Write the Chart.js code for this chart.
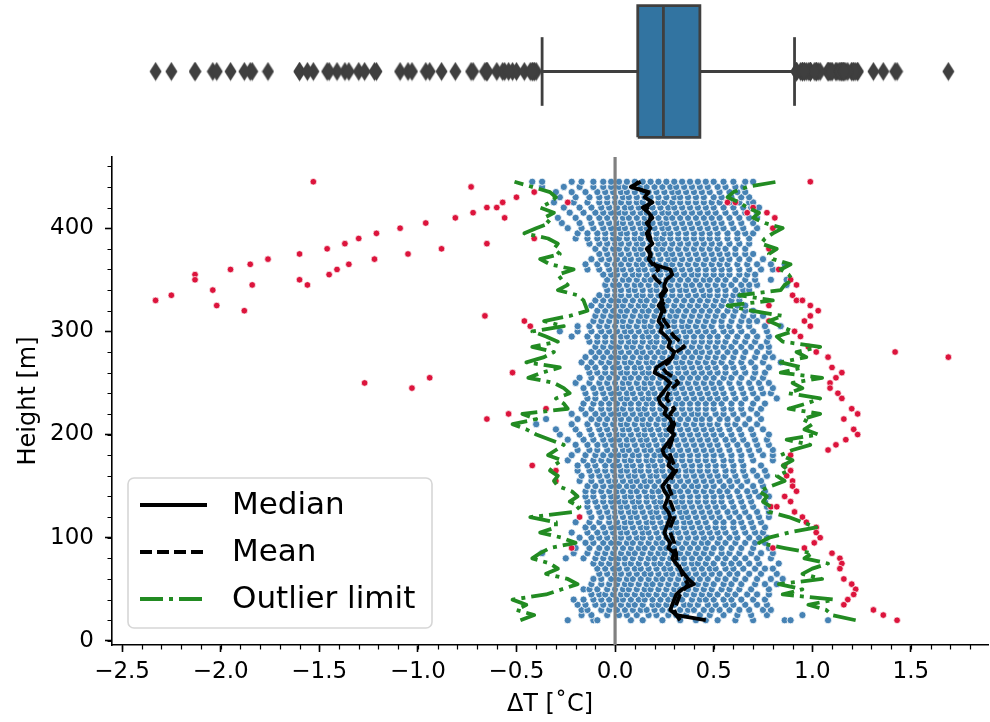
<!DOCTYPE html>
<html lang="en">
<head>
<meta charset="UTF-8">
<title>ΔT profile with outliers</title>
<script src="https://cdn.jsdelivr.net/npm/chart.js"></script>
<style>
  html, body { margin: 0; padding: 0; background: #fff; }
  #wrap { position: relative; width: 990px; height: 722px; }
  #boxCanvas { position: absolute; left: 0; top: 0; }
  #mainCanvas { position: absolute; left: 0; top: 150px; }
</style>
</head>
<body>
<div id="wrap">
  <canvas id="boxCanvas" width="990" height="150"></canvas>
  <canvas id="mainCanvas" width="990" height="572"></canvas>
</div>
<script>
// heights of the profile levels [m]
const heights = [20,25,30,35,40,45,50,55,60,65,70,75,80,85,90,95,100,105,110,115,
  120,125,130,135,140,145,150,155,160,165,170,175,180,185,190,195,200,205,210,215,
  220,225,230,235,240,245,250,255,260,265,270,275,280,285,290,295,300,305,310,315,
  320,325,330,335,340,345,350,355,360,365,370,375,380,385,390,395,400,405,410,415,
  420,425,430,435,440,445];

// per-level statistics, dT in hundredths of a degree (same order as heights)
const medianDT = [46,31,28,29,30,31,34,40,37,35, 33,31,29,30,27,28,26,25,26,27,
  28,27,25,26,27,25,24,26,28,30, 27,28,25,24,26,28,30,27,29,28,
  25,26,23,22,24,26,28,25,20,21, 25,29,30,27,28,26,23,24,22,23,
  24,22,24,23,25,25,26,29,28,19, 17,18,16,19,17,16,18,16,19,17,
  14,19,15,17,8,13];
const meanDT = [33,31,30,31,32,33,35,37,35,34, 33,32,31,31,30,30,29,28,28,29,
  30,30,29,28,29,28,27,28,29,31, 30,29,28,27,28,29,29,29,30,29,
  28,30,28,26,27,29,32,30,26,24, 27,29,31,35,33,30,28,27,25,24,
  25,24,25,24,26,24,21,19,22,20, 18,18,17,18,18,17,17,17,18,18,
  16,18,17,16,9,12];
const lowerLimitDT = [-48,-41,-50,-45,-52,-35,-27,-19,-24,-35, -29,-33,-42,-38,-33,-20,-27,-38,-30,-30,
  -43,-21,-18,-23,-19,-22,-29,-31,-29,-33, -31,-27,-34,-30,-26,-33,-40,-45,-52,-40,
  -47,-24,-26,-30,-23,-26,-31,-44,-37,-28, -45,-36,-31,-42,-29,-35,-42,-26,-36,-23,
  -14,-15,-16,-19,-29,-24,-27,-29,-21,-33, -38,-28,-31,-29,-34,-46,-40,-33,-36,-31,
  -38,-33,-30,-33,-42,-51];
const upperLimitDT = [122,110,107,98,111,85,95,83,105,95, 100,108,96,100,86,73,78,88,102,95,
  88,78,79,75,77,73,79,86,82,88, 85,90,84,90,99,87,103,96,100,95,
  104,88,97,104,88,95,90,105,84,95, 84,97,92,104,85,82,90,84,78,85,
  69,57,80,63,84,86,90,88,84,89, 80,78,82,74,76,80,85,76,70,73,
  67,63,57,60,67,82];

// all inlier measurements per level (dT in hundredths), same order as heights
const cloudDT = [
  [-24,-11,-9,8,14,24,33,41,46,52,61,70,86,89,108],                                  // 20
  [-17,-12,-4,2,6,11,17,21,27,31,36,43,48,55,62,69,77,95],
  [-17,-14,-7,-3,1,5,9,13,16,20,24,28,33,37,40,45,49,53,58,63,68,75,79],
  [-19,-15,-10,-6,-2,3,7,10,14,19,22,26,30,35,38,42,47,51,56,60,66,72,77],
  [-21,-16,-11,-7,-3,1,4,8,12,15,19,23,27,30,34,39,43,46,50,55,59,64,70,76],
  [-12,-8,-5,-1,3,6,10,14,17,21,25,29,32,36,40,44,48,52,57,61,67,72,78],
  [-16,-13,-9,-4,0,4,7,11,15,18,22,26,30,33,37,41,45,49,54,58,63,69,78],
  [-12,-7,-3,1,5,8,12,16,19,23,27,31,35,38,42,46,50,55,59,64,71,76,82],
  [-11,-7,-2,2,6,9,13,17,21,24,28,32,36,39,43,47,52,56,61,66,72,79,85],
  [-8,-4,0,3,7,11,15,18,22,26,29,33,37,41,45,49,53,58,62,68,74,82],
  [-9,-5,-1,2,6,10,13,17,21,25,28,32,36,40,44,48,51,56,60,65,71,76,80],              // 70
  [-11,-7,-3,1,5,8,12,16,20,23,27,31,35,39,42,46,50,55,59,63,68,73,83],
  [-25,-16,-10,-6,-2,2,5,9,13,17,20,24,28,32,35,39,43,47,52,56,61,66,72,79],
  [-37,-21,-14,-9,-5,-1,3,7,10,14,18,22,25,29,33,37,41,45,49,54,58,63,69,74,80],
  [-20,-13,-8,-4,0,4,8,12,15,19,23,26,30,34,38,42,46,50,54,59,64,70,78],
  [-15,-11,-6,-2,2,6,9,13,17,21,24,28,32,36,40,44,47,52,56,61,66,71,76],
  [-18,-12,-8,-4,0,3,7,11,14,18,22,26,29,33,37,41,45,49,53,58,62,68,73,77],
  [-22,-14,-9,-5,-1,3,6,10,14,17,21,25,29,32,36,40,44,48,52,56,61,66,71,75],
  [-15,-11,-6,-2,2,5,9,13,16,20,24,28,31,35,39,43,47,51,55,60,65,70,76],
  [-20,-13,-8,-3,1,5,8,12,16,19,23,27,31,35,38,42,46,51,55,60,64,69,74],
  [-12,-7,-3,0,4,8,11,15,19,22,26,30,34,37,41,45,49,53,58,63,68,73,78],              // 120
  [-13,-8,-4,0,3,7,10,14,18,21,25,29,33,36,40,44,48,52,57,61,66,72,78],
  [-14,-9,-5,-1,3,6,10,13,17,21,24,28,32,35,39,43,47,51,55,60,65,70,77],
  [-14,-10,-6,-2,2,5,9,12,16,20,23,27,31,34,38,42,46,50,54,59,64,69,76],
  [-15,-11,-6,-2,1,5,8,12,16,19,23,27,30,34,38,42,46,50,54,58,63,68,73,78],
  [-15,-11,-7,-3,1,4,8,11,15,19,22,26,30,33,37,41,45,49,53,57,62,67,71,76],
  [-14,-10,-6,-2,2,6,9,13,16,20,24,27,31,35,39,42,46,50,55,59,64,70,75],
  [-18,-12,-7,-3,0,4,8,11,15,18,22,26,29,33,37,41,45,49,53,58,62,67,74],
  [-17,-12,-8,-4,0,3,7,10,14,18,21,25,29,32,36,40,44,48,52,56,61,66,72,77],
  [-19,-13,-9,-5,-1,3,6,10,13,17,21,24,28,32,36,39,43,47,51,56,60,65,70,76],
  [-19,-14,-10,-5,-1,2,6,9,13,17,20,24,28,31,35,39,43,47,51,55,60,65,74],             // 170
  [-24,-16,-11,-7,-3,1,5,8,12,16,19,23,27,30,34,38,42,46,50,55,59,64,70,80],
  [-22,-15,-10,-6,-2,2,5,9,12,16,20,23,27,31,34,38,42,46,50,54,59,64,69,75,80],
  [-19,-13,-9,-4,0,4,7,11,15,18,22,26,29,33,37,41,45,49,53,58,63,68,73,80],
  [-20,-14,-9,-5,-1,3,6,10,14,17,21,25,28,32,36,40,44,48,52,57,62,67,72,78],
  [-24,-16,-11,-6,-2,2,6,9,13,16,20,24,28,31,35,39,43,47,51,56,60,65,71,77],
  [-28,-18,-12,-7,-3,1,4,8,12,15,19,23,26,30,34,38,42,46,50,54,59,64,70,78],
  [-30,-20,-13,-8,-4,0,4,7,11,15,18,22,26,29,33,37,41,45,49,53,58,63,69,75],
  [-40,-22,-14,-9,-5,-1,3,6,10,14,17,21,25,28,32,36,40,44,48,52,57,61,66,72],
  [-35,-19,-12,-8,-4,0,3,7,11,14,18,22,25,29,33,37,41,44,48,53,57,62,68,74],
  [-22,-15,-10,-6,-2,2,5,9,13,16,20,24,27,31,35,39,42,46,51,55,60,65,72],              // 220
  [-17,-12,-7,-3,1,4,8,12,15,19,23,26,30,34,38,42,46,50,55,59,64,69,74],
  [-16,-11,-7,-3,1,5,8,12,16,19,23,27,31,34,38,42,46,50,54,59,64,70,76],
  [-14,-10,-5,-1,3,6,10,14,17,21,25,28,32,36,40,44,48,52,56,61,66,72,82],
  [-15,-10,-6,-2,2,6,9,13,17,20,24,28,31,35,39,43,47,51,55,60,65,70,75,79],
  [-16,-11,-7,-3,1,4,8,12,15,19,23,27,30,34,38,42,46,50,54,59,64,69,74,80],
  [-20,-13,-8,-4,0,4,7,11,15,18,22,26,30,33,37,41,45,49,53,58,63,68,73,78],
  [-18,-12,-7,-3,1,5,8,12,16,19,23,27,30,34,38,42,46,50,55,59,64,70,75],
  [-13,-9,-5,-1,3,6,10,14,17,21,25,28,32,36,40,44,48,52,56,61,66,71,76],
  [-14,-10,-5,-1,2,6,10,13,17,21,24,28,32,35,39,43,47,51,56,60,65,71,78],
  [-17,-12,-7,-3,1,5,8,12,16,19,23,27,31,34,38,42,46,50,54,59,64,69,75,84],          // 270
  [-15,-10,-6,-2,2,5,9,13,16,20,24,28,31,35,39,43,47,51,55,60,65,71,76,80],
  [-12,-8,-4,0,3,7,11,14,18,22,25,29,33,37,41,44,48,52,57,61,66,72,78],
  [-10,-6,-2,2,6,9,13,17,20,24,28,32,35,39,43,47,51,55,59,64,69,74,78],
  [-13,-9,-5,-1,3,7,10,14,18,21,25,29,33,36,40,44,48,52,56,61,66,71,77],
  [-22,-14,-9,-5,-1,3,6,10,14,17,21,25,29,32,36,40,44,48,52,57,62,67,72,78],
  [-28,-19,-12,-7,-3,1,5,8,12,16,19,23,27,31,35,38,42,46,50,55,59,64,70,77],
  [-19,-13,-8,-4,0,4,7,11,15,18,22,26,30,34,37,41,45,49,54,58,63,68,76,84],
  [-11,-7,-3,1,4,8,12,15,19,23,27,30,34,38,42,46,50,54,59,64,68,72],
  [-10,-6,-2,2,5,9,13,16,20,24,28,31,35,39,43,47,51,55,60,65,70,75],
  [-9,-5,-1,3,6,10,14,17,21,25,29,32,36,40,44,48,52,57,61,66,70],                     // 320
  [-12,-7,-3,1,4,8,12,15,19,23,26,30,34,38,42,46,50,54,58,62,66],
  [-10,-6,-2,2,5,9,13,16,20,24,27,31,35,39,43,47,51,55,59,63],
  [-8,-4,0,3,7,11,14,18,22,25,29,33,37,41,45,48,52,56,60,63],
  [-4,0,3,7,10,14,18,21,25,29,33,36,40,44,48,52,56,61,65,68],
  [-5,-1,2,6,10,13,17,21,24,28,32,36,39,43,47,51,55,59,64,68,72,87],
  [-4,0,4,7,11,15,18,22,26,29,33,37,41,45,48,52,56,61,66,71,79,87],
  [-6,-2,1,5,9,12,16,20,23,27,31,35,39,42,46,50,54,58,63,67,71],
  [-14,-8,-3,1,4,8,12,15,19,23,26,30,34,38,42,46,50,54,58,63,68,74,80],
  [-15,-9,-4,0,3,7,11,14,18,22,26,29,33,37,41,45,49,53,57,62,67,72,79,86],
  [-12,-7,-3,1,5,8,12,16,19,23,27,30,34,38,42,46,50,54,58,63,68,75],                  // 370
  [-8,-4,0,3,7,11,14,18,22,26,29,33,37,41,45,49,53,57,61,66,70],
  [-10,-5,-1,2,6,10,13,17,21,24,28,32,36,40,44,48,52,56,61,66],
  [-13,-8,-4,0,3,7,11,14,18,22,25,29,33,37,41,45,49,53,58,63,68],
  [-20,-14,-9,-5,-1,2,6,10,13,17,21,24,28,32,36,40,44,48,52,57,62,68],
  [-19,-14,-9,-5,-1,3,6,10,14,17,21,25,28,32,36,40,44,48,52,57,62,66,70],
  [-24,-17,-11,-6,-2,2,5,9,13,16,20,24,27,31,35,39,43,47,51,55,60,65,72],
  [-27,-18,-12,-7,-3,1,4,8,12,15,19,23,26,30,34,38,42,46,50,54,59,64,70],
  [-29,-20,-13,-8,-4,0,4,7,11,15,18,22,26,29,33,37,41,45,49,53,58,63,68,72],
  [-23,-16,-10,-6,-2,2,5,9,13,16,20,24,27,31,35,39,43,47,51,56,61,66,72],
  [-26,-18,-12,-7,-3,1,5,8,12,16,19,23,27,30,34,38,42,46,50,55,60,65,69,73],          // 420
  [-31,-21,-14,-8,-4,0,3,7,11,14,18,22,25,29,33,37,41,45,49,53,58,63,68,70],
  [-28,-20,-13,-8,-4,0,4,7,11,15,18,22,26,30,33,37,41,45,50,54,59,64,68],
  [-30,-22,-15,-9,-5,-1,3,6,10,14,17,21,25,29,32,36,40,44,48,53,58,62,66],
  [-37,-26,-18,-11,-6,-2,2,5,9,13,16,20,24,28,31,35,39,43,47,52,56,61,65],
  [-42,-37,-22,-17,-11,-6,-2,2,6,10,14,18,22,26,30,34,38,42,46,50,55,60,66,70]       // 445
];

// points flagged as outliers (outside the per-level limit)
const outlierDT = [-153,-73,-41,-50,-57,-24,-60,-65,-72,-56,-81,-96,-109,-121,-130,-41,-137,-65,-146,-88,
  -160,-105,-122,-176,-135,-185,-141,-195,-145,-213,-160,-213,-156,-184,-204,-225,-233,-202,-188,-66,
  -46,-43,-52,-94,-127,-103,-35,-54,-65,-42,-30,-30,-18,-22,
  99,57,61,70,77,67,81,80,78,83,89,92,90,92,95,78,99,103,99,96,
  78,99,91,94,98,102,142,108,169,110,115,112,109,109,113,115,120,123,116,121,
  123,117,112,108,89,86,89,87,90,90,92,86,89,79,82,91,95,97,102,102,
  104,101,96,80,110,114,115,114,116,120,122,121,118,116,131,136,143];
const outlierHeight = [445,440,435,430,425,425,420,420,415,410,410,405,400,395,390,390,385,385,380,380,
  375,375,370,370,365,365,360,360,355,355,350,350,345,345,340,335,330,325,320,315,
  310,305,260,255,250,245,225,220,215,170,165,155,120,90,
  445,425,425,420,415,415,410,400,380,360,350,345,335,330,330,325,325,320,315,310,
  310,305,300,295,285,280,280,275,275,265,260,255,250,245,240,235,225,220,215,205,
  200,195,190,185,180,170,165,160,155,150,145,140,135,130,130,125,120,115,110,105,
  100,95,90,90,85,80,75,70,60,55,50,45,40,35,30,25,20];

// box plot of all dT values: lower whisker, Q1, median, Q3, upper whisker
const boxStats = [-0.37, 0.115, 0.245, 0.43, 0.91];

const xTicks = [-2.5, -2.0, -1.5, -1.0, -0.5, 0.0, 0.5, 1.0, 1.5];
const yTicks = [0, 100, 200, 300, 400];
const legendLabels = ['Median', 'Mean', 'Outlier limit'];

// ---------- build point lists ----------
const xMin = -2.551, xMax = 1.891;
const yMin = -4, yMax = 469;

const cloudPts = [];
cloudDT.forEach((row, i) => row.forEach(v => cloudPts.push({ x: v / 100, y: heights[i] })));
const outlierPts = outlierDT.map((v, i) => ({ x: v / 100, y: outlierHeight[i] }));
const profile = arr => arr.map((v, i) => ({ x: v / 100, y: heights[i] }));

const [wLo, q1, med, q3, wHi] = boxStats;
const allDT = cloudPts.map(p => p.x).concat(outlierPts.map(p => p.x));
const boxFliers = allDT.filter(v => v < wLo || v > wHi);

Chart.defaults.font.family = 'DejaVu Sans';
Chart.defaults.color = '#000';

const fmtX = v => (v < 0 ? '\u2212' : '') + Math.abs(v).toFixed(1);

// ---------- top: box plot ----------
const boxEdge = '#3f3f3f';
const boxHalf = 0.92, capHalf = 0.48;

const diamond = document.createElement('canvas');
diamond.width = 13; diamond.height = 20;
(function () {
  const d = diamond.getContext('2d');
  d.fillStyle = boxEdge;
  d.beginPath();
  d.moveTo(6.5, 0.5); d.lineTo(12.5, 10); d.lineTo(6.5, 19.5); d.lineTo(0.5, 10);
  d.closePath(); d.fill();
})();

const lineDs = (data, color, width, order, extra) => Object.assign({
  data, showLine: true, borderColor: color, borderWidth: width, pointRadius: 0,
  fill: false, tension: 0, order
}, extra || {});

new Chart(document.getElementById('boxCanvas'), {
  type: 'scatter',
  data: {
    datasets: [
      lineDs([{ x: wLo, y: 0 }, { x: wHi, y: 0 }], boxEdge, 2.8, 6),
      lineDs([{ x: q1, y: -boxHalf }, { x: q3, y: -boxHalf }], 'rgba(0,0,0,0)', 1, 5),
      lineDs([{ x: q1, y: boxHalf }, { x: q3, y: boxHalf }], 'rgba(0,0,0,0)', 1, 4,
        { fill: '-1', backgroundColor: '#3274a1' }),
      lineDs([{ x: q1, y: -boxHalf }, { x: q3, y: -boxHalf }, { x: q3, y: boxHalf },
        { x: q1, y: boxHalf }, { x: q1, y: -boxHalf }], boxEdge, 2.8, 3,
        { borderJoinStyle: 'miter' }),
      lineDs([{ x: med, y: -boxHalf }, { x: med, y: boxHalf }], boxEdge, 2.8, 2),
      lineDs([{ x: wLo, y: -capHalf }, { x: wLo, y: capHalf }], boxEdge, 2.8, 1),
      lineDs([{ x: wHi, y: -capHalf }, { x: wHi, y: capHalf }], boxEdge, 2.8, 1),
      { data: boxFliers.map(v => ({ x: v, y: 0 })), pointStyle: diamond, pointRadius: 6, order: 0 }
    ]
  },
  options: {
    responsive: false, animation: false, events: [],
    layout: { autoPadding: false, padding: { left: 112, right: 2, top: 0, bottom: 7 } },
    plugins: { legend: { display: false }, tooltip: { enabled: false } },
    scales: {
      x: { type: 'linear', display: false, min: xMin, max: xMax },
      y: { type: 'linear', display: false, min: -1, max: 1 }
    }
  }
});

// ---------- bottom: profile scatter ----------
const minorTicks = {
  id: 'minorTicks',
  afterDraw(chart) {
    const { ctx, chartArea, scales: { x, y } } = chart;
    ctx.save();
    ctx.strokeStyle = '#000';
    ctx.lineWidth = 1.2;
    ctx.beginPath();
    for (let k = -25; k <= 18; k++) {
      const px = Math.round(x.getPixelForValue(k / 10)) + 0.5;
      ctx.moveTo(px, chartArea.bottom); ctx.lineTo(px, chartArea.bottom + 4.5);
    }
    for (let v = 0; v <= 460; v += 20) {
      const py = Math.round(y.getPixelForValue(v)) + 0.5;
      ctx.moveTo(chartArea.left, py); ctx.lineTo(chartArea.left - 4.5, py);
    }
    ctx.stroke();
    ctx.restore();
  }
};

const legendBox = {
  id: 'legendBox',
  afterDraw(chart) {
    const { ctx } = chart;
    const ds = chart.data.datasets;
    const bx = 128, by = 328, bw = 304, bh = 150;
    ctx.save();
    ctx.beginPath();
    ctx.roundRect(bx, by, bw, bh, 6);
    ctx.fillStyle = 'rgba(255,255,255,0.8)';
    ctx.fill();
    ctx.lineWidth = 1.6;
    ctx.strokeStyle = '#d6d6d6';
    ctx.stroke();
    legendLabels.forEach((label, i) => {
      const d = ds[i];
      const ly = by + 27 + i * 47;
      ctx.beginPath();
      ctx.setLineDash(d.borderDash || []);
      ctx.lineCap = 'butt';
      ctx.strokeStyle = d.borderColor;
      ctx.lineWidth = d.borderWidth;
      ctx.moveTo(140, ly); ctx.lineTo(207, ly);
      ctx.stroke();
      ctx.setLineDash([]);
      ctx.fillStyle = '#000';
      ctx.font = '31px "DejaVu Sans"';
      ctx.textBaseline = 'middle';
      ctx.fillText(label, 232, ly + 1);
    });
    ctx.restore();
  }
};

const axisFont = { family: 'DejaVu Sans', size: 23 };
const titleFont = { family: 'DejaVu Sans', size: 24 };
const gridOpts = { drawOnChartArea: false, drawTicks: true, tickLength: 7, tickWidth: 1.6, tickColor: '#000' };
const borderOpts = { display: true, color: '#000', width: 1.6 };
const lineStyle = { borderCapStyle: 'butt', borderJoinStyle: 'round' };

new Chart(document.getElementById('mainCanvas'), {
  type: 'scatter',
  data: {
    datasets: [
      lineDs(profile(medianDT), '#000', 3.8, 0, lineStyle),
      lineDs(profile(meanDT), '#000', 3.8, 1, Object.assign({ borderDash: [12, 5] }, lineStyle)),
      lineDs(profile(upperLimitDT), '#228b22', 3.8, 2, Object.assign({ borderDash: [23, 6, 4, 6] }, lineStyle)),
      lineDs(profile(lowerLimitDT), '#228b22', 3.8, 3, Object.assign({ borderDash: [23, 6, 4, 6] }, lineStyle)),
      lineDs([{ x: 0, y: yMin }, { x: 0, y: yMax }], '#808080', 3.2, 4),
      { data: outlierPts, pointRadius: 3.3, backgroundColor: '#dc143c', borderColor: '#fff', borderWidth: 0.7, order: 5 },
      { data: cloudPts, pointRadius: 3.6, backgroundColor: '#4682b4', borderColor: '#fff', borderWidth: 0.8, order: 6 }
    ]
  },
  options: {
    responsive: false, animation: false, events: [],
    layout: { autoPadding: false, padding: { top: 7, right: 2, left: 0, bottom: 0 } },
    plugins: { legend: { display: false }, tooltip: { enabled: false } },
    scales: {
      x: {
        type: 'linear', min: xMin, max: xMax,
        afterBuildTicks: s => { s.ticks = xTicks.map(v => ({ value: v })); },
        afterFit: s => { s.height = 77; s.paddingLeft = 0; s.paddingRight = 0; },
        grid: gridOpts, border: borderOpts,
        ticks: { font: axisFont, color: '#000', padding: 6, maxRotation: 0, autoSkip: false, callback: v => fmtX(v) },
        title: { display: true, text: 'ΔT [˚C]', font: titleFont, color: '#000', padding: { top: 0, bottom: 3 } }
      },
      y: {
        type: 'linear', min: yMin, max: yMax,
        afterBuildTicks: s => { s.ticks = yTicks.map(v => ({ value: v })); },
        afterFit: s => { s.width = 112; s.paddingTop = 0; s.paddingBottom = 0; },
        grid: gridOpts, border: borderOpts,
        ticks: { font: axisFont, color: '#000', padding: 11, autoSkip: false, callback: v => String(v) },
        title: { display: true, text: 'Height [m]', font: titleFont, color: '#000', padding: { top: 14, bottom: 0 } }
      }
    }
  },
  plugins: [minorTicks, legendBox]
});
</script>
</body>
</html>
